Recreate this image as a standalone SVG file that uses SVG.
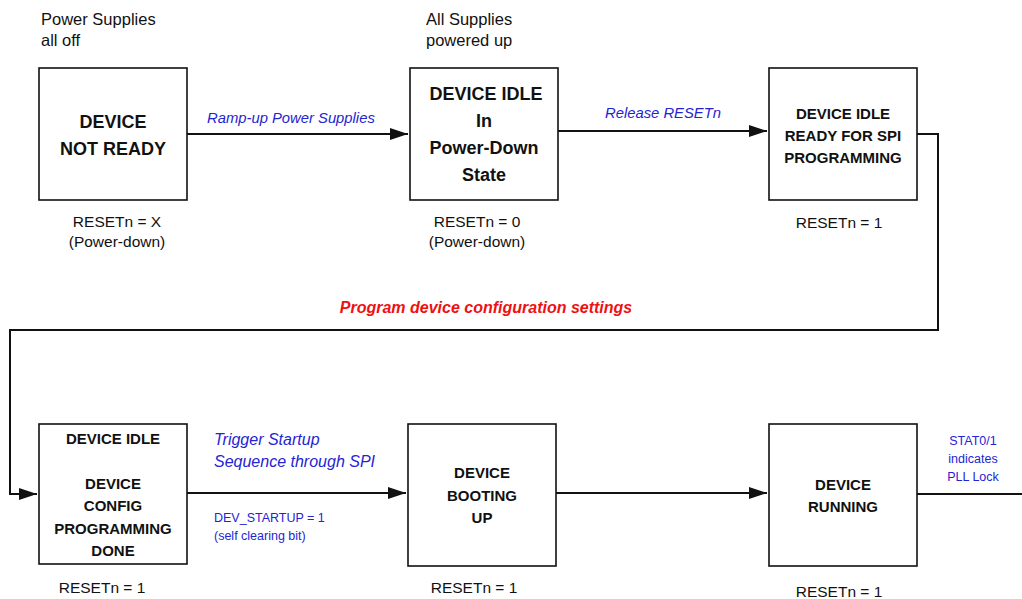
<svg xmlns="http://www.w3.org/2000/svg" width="1022" height="599" viewBox="0 0 1022 599">
<defs>
<style>
.box{fill:#fff;stroke:#111;stroke-width:1.6}
.t{font-family:"Liberation Sans",Arial,sans-serif;fill:#111}
.b{font-weight:bold;text-anchor:middle}
.b18{font-size:18px}
.b15{font-size:15px}
.lbl{font-size:16.5px}
.rs{font-size:15.5px;text-anchor:middle}
.blue{font-family:"Liberation Sans",Arial,sans-serif;fill:#2424d4}
.it{font-style:italic;font-size:14.8px}
.sm{font-size:12.5px}
.red{font-family:"Liberation Sans",Arial,sans-serif;fill:#ee1111;font-weight:bold;font-style:italic;font-size:16px;text-anchor:middle}
.ln{fill:none;stroke:#111;stroke-width:2}
</style>
<marker id="ah" markerUnits="userSpaceOnUse" markerWidth="19" markerHeight="13" refX="18" refY="6" orient="auto">
<path d="M0,0 L18,6 L0,12 z" fill="#111"/>
</marker>
</defs>
<rect width="1022" height="599" fill="#fff"/>

<g id="connectors">
<path class="ln" d="M187,134 H408" marker-end="url(#ah)"/>
<path class="ln" d="M558,131 H767" marker-end="url(#ah)"/>
<path class="ln" d="M917,134 H938 V330 H10 V494 H37" marker-end="url(#ah)"/>
<path class="ln" d="M187,493 H406" marker-end="url(#ah)"/>
<path class="ln" d="M556,493 H767" marker-end="url(#ah)"/>
<path class="ln" d="M917,494 H1022"/>
<text class="blue it" x="207" y="123">Ramp-up Power Supplies</text>
<text class="blue it" x="605" y="118">Release RESETn</text>
<text class="red" x="486" y="313">Program device configuration settings</text>
<text class="blue it" x="214" y="445" style="font-size:16px">Trigger Startup</text>
<text class="blue it" x="214" y="467" style="font-size:16px">Sequence through SPI</text>
<text class="blue sm" x="214" y="522">DEV_STARTUP = 1</text>
<text class="blue sm" x="214" y="540">(self clearing bit)</text>
<text class="blue sm" x="973" y="445" text-anchor="middle">STAT0/1</text>
<text class="blue sm" x="973" y="463" text-anchor="middle">indicates</text>
<text class="blue sm" x="973" y="481" text-anchor="middle">PLL Lock</text>
</g>

<g id="node-not-ready">
<text class="t lbl" x="41" y="25">Power Supplies</text>
<text class="t lbl" x="41" y="46">all off</text>
<rect class="box" x="39" y="68" width="148" height="132"/>
<text class="t b b18" x="113" y="128">DEVICE</text>
<text class="t b b18" x="113" y="155">NOT READY</text>
<text class="t rs" x="117" y="227">RESETn = X</text>
<text class="t rs" x="117" y="247">(Power-down)</text>
</g>

<g id="node-idle-powerdown">
<text class="t lbl" x="426" y="25">All Supplies</text>
<text class="t lbl" x="426" y="46">powered up</text>
<rect class="box" x="410" y="68" width="148" height="132"/>
<text class="t b b18" x="486" y="100">DEVICE IDLE</text>
<text class="t b b18" x="484" y="127">In</text>
<text class="t b b18" x="484" y="154">Power-Down</text>
<text class="t b b18" x="484" y="181">State</text>
<text class="t rs" x="477" y="227">RESETn = 0</text>
<text class="t rs" x="477" y="247">(Power-down)</text>
</g>

<g id="node-ready-spi">
<rect class="box" x="769" y="68" width="148" height="132"/>
<text class="t b b15" x="843" y="119">DEVICE IDLE</text>
<text class="t b b15" x="843" y="141">READY FOR SPI</text>
<text class="t b b15" x="843" y="163">PROGRAMMING</text>
<text class="t rs" x="839" y="228">RESETn = 1</text>
</g>

<g id="node-config-done">
<rect class="box" x="39" y="424" width="148" height="140"/>
<text class="t b b15" x="113" y="444">DEVICE IDLE</text>
<text class="t b b15" x="113" y="489">DEVICE</text>
<text class="t b b15" x="113" y="511">CONFIG</text>
<text class="t b b15" x="113" y="534">PROGRAMMING</text>
<text class="t b b15" x="113" y="556">DONE</text>
<text class="t rs" x="102" y="593">RESETn = 1</text>
</g>

<g id="node-booting">
<rect class="box" x="408" y="424" width="148" height="142"/>
<text class="t b b15" x="482" y="478">DEVICE</text>
<text class="t b b15" x="482" y="501">BOOTING</text>
<text class="t b b15" x="482" y="523">UP</text>
<text class="t rs" x="474" y="593">RESETn = 1</text>
</g>

<g id="node-running">
<rect class="box" x="769" y="424" width="148" height="142"/>
<text class="t b b15" x="843" y="490">DEVICE</text>
<text class="t b b15" x="843" y="512">RUNNING</text>
<text class="t rs" x="839" y="597">RESETn = 1</text>
</g>
</svg>
